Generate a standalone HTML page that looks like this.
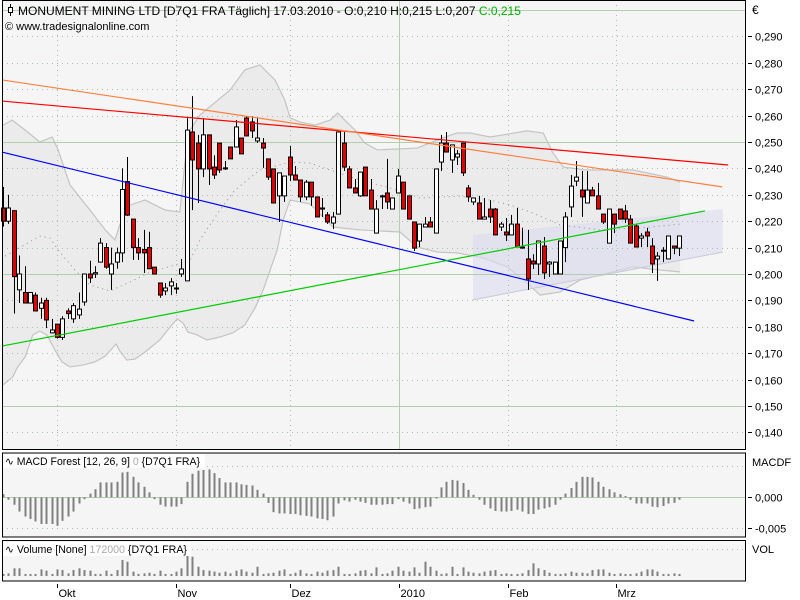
<!DOCTYPE html>
<html><head><meta charset="utf-8"><style>
html,body{margin:0;padding:0;background:#fff;}
svg{display:block;font-family:"Liberation Sans",Arial,sans-serif;}
</style></head><body>
<svg id="chart" width="800" height="600" viewBox="0 0 800 600" xmlns="http://www.w3.org/2000/svg">
<rect x="0" y="0" width="800" height="600" fill="#ffffff"/>
<g id="main"></g>
<g id="macd"></g>
<g id="vol"></g>
<g id="axes"></g>
</svg>
<script>
// ---- data ----
const candles = [
[.225,.233,.218,.220],[.220,.230,.219,.225],[.224,.224,.185,.199],[.194,.207,.189,.200],[.193,.203,.189,.189],
[.189,.193,.189,.193],[.192,.193,.186,.186],[.187,.191,.183,.189],[.190,.191,.1795,.1826],[.1777,.183,.1777,.1788],
[.181,.181,.1755,.176],[.176,.184,.175,.183],[.186,.187,.183,.185],[.183,.189,.1815,.188],[.1845,.193,.183,.1867],
[.1894,.200,.188,.200],[.200,.205,.1966,.1985],[.200,.203,.1985,.2005],[.2045,.2136,.2045,.2117],[.210,.2117,.202,.2026],
[.200,.210,.194,.2038],[.2045,.210,.202,.208],[.208,.240,.2045,.232],[.235,.2443,.222,.2223],[.2208,.2208,.2053,.210],
[.210,.2136,.2053,.208],[.2093,.2167,.2004,.208],[.210,.216,.202,.202],[.2026,.2026,.200,.200],[.1966,.1966,.191,.192],
[.1936,.1966,.192,.1947],[.1955,.1985,.192,.197],[.1947,.1966,.1925,.1947],[.200,.2057,.1989,.2019],[.1974,.259,.1974,.2545],
[.2538,.2674,.2242,.2432],[.2496,.2527,.2269,.2398],[.2398,.259,.2367,.2527],[.2527,.2527,.2337,.2398],[.2405,.245,.236,.2375],
[.2496,.2496,.2383,.2394],[.2398,.2428,.2394,.2402],[.2481,.2481,.2436,.2436],[.2481,.2583,.2481,.2557],[.2515,.2515,.2455,.2455],
[.2591,.2598,.2523,.2523],[.2576,.2598,.2515,.2542],[.2504,.2591,.2496,.2515],[.2496,.2515,.2402,.2477],[.2436,.2436,.2356,.2367],
[.2398,.2398,.2269,.2269],[.2296,.2383,.2197,.2383],[.2296,.2371,.2273,.2371],[.2443,.2485,.2352,.2375],[.2375,.2409,.2356,.2356],
[.2356,.2356,.2273,.2292],[.2292,.2356,.228,.2348],[.2348,.2348,.2258,.2292],[.2292,.2292,.2216,.2216],[.2246,.2288,.2216,.225],
[.2224,.2235,.219,.2197],[.2193,.2235,.217,.2216],[.2227,.2538,.2227,.2538],[.2496,.2538,.239,.2405],[.2398,.2409,.2326,.2326],
[.2326,.236,.2307,.2307],[.2296,.2386,.2292,.2386],[.2405,.2405,.2296,.2296],[.2318,.236,.2246,.2246],[.2155,.228,.2155,.2246],
[.2292,.23,.2246,.2296],[.2307,.2436,.2246,.2273],[.2246,.2288,.2246,.2288],[.2307,.2398,.2307,.2371],[.2348,.2348,.2246,.2246],
[.2296,.2296,.2208,.2208],[.2197,.2197,.2087,.2098],[.2125,.2189,.2102,.2189],[.2178,.2216,.2178,.2189],[.2197,.2216,.2178,.2178],
[.2155,.2398,.2155,.2398],[.2424,.2527,.239,.2496],[.2496,.2538,.2462,.2462],[.2432,.2489,.2383,.2489],[.2443,.247,.2413,.2455],
[.2496,.2496,.2371,.2383],[.2326,.2337,.2273,.2292],[.2273,.2288,.2262,.2288],[.2269,.2296,.2208,.2208],[.2208,.2288,.2208,.2216],
[.2246,.228,.2193,.2216],[.2246,.225,.2148,.2148],[.2178,.2197,.2163,.2189],[.2159,.2212,.2125,.2148],[.2148,.2224,.2148,.2189],
[.2189,.225,.2102,.2102],[.2102,.2175,.2098,.2098],[.2057,.2167,.194,.1981],[.2049,.2075,.2019,.2038],[.2038,.2125,.1996,.2125],
[.2106,.214,.1981,.2004],[.2038,.2049,.1989,.2045],[.2,.2045,.2,.2045],[.2,.2125,.2,.2125],[.21,.2235,.2045,.2216],
[.2254,.2375,.2216,.2333],[.2352,.2428,.2333,.2367],[.2318,.239,.2216,.2292],[.2269,.239,.2269,.2318],[.2318,.233,.2296,.2296],
[.2296,.2345,.2246,.2246],[.2227,.2227,.219,.2197],[.2117,.2246,.2117,.2246],[.2227,.2227,.2155,.2189],[.2246,.2246,.2208,.2208],
[.2239,.2262,.2193,.2208],[.2208,.2224,.2117,.2117],[.2182,.2189,.2102,.2102],[.2136,.2155,.2102,.2144],[.2159,.2175,.2102,.2144],
[.2106,.2136,.2004,.2038],[.2057,.2083,.1974,.2068],[.2087,.2102,.2045,.209],[.2057,.2144,.2057,.2144],[.2106,.2106,.2075,.2098],
[.2098,.2144,.2068,.2144]
];
const macdValues = [
.0005,-.0004,-.0012,-.0023,-.0031,-.0035,-.0039,-.0043,-.0043,-.0043,
-.0046,-.0038,-.0031,-.0023,-.0010,-.0003,.0006,.0013,.0024,.0024,
.0024,.0025,.0040,.0041,.0033,.0024,.0017,.0008,-.0003,-.0012,
-.0015,-.0015,-.0015,-.0011,.0025,.0038,.0043,.0044,.0045,.0039,
.0031,.0024,.0024,.0024,.0021,.0020,.0019,.0012,.0006,-.0009,
-.0024,-.0026,-.0026,-.0027,-.0027,-.0029,-.0030,-.0031,-.0034,-.0035,
-.0037,-.0031,-.0010,-.0005,-.0007,-.0004,-.0007,-.0009,-.0012,-.0012,
-.0012,-.0011,-.0011,-.0003,-.0007,-.0010,-.0019,-.0018,-.0016,-.0015,
-.0002,.0016,.0025,.0028,.0027,.0023,.0012,.0004,-.0004,-.0012,
-.0018,-.0022,-.0023,-.0023,-.0022,-.0020,-.0023,-.0027,-.0027,-.0020,
-.0018,-.0016,-.0012,-.0004,.0006,.0015,.0025,.0033,.0033,.0032,
.0025,.0017,.0013,.0008,.0005,.0002,-.0004,-.0010,-.0010,-.0010,
-.0015,-.0016,-.0014,-.0010,-.0009,-.0004
];
const volumeK = [
13,17,49,49,13,13,13,42,34,13,42,38,17,38,49,38,34,13,13,34,13,38,102,91,28,13,17,21,13,34,13,13,28,49,172,123,59,38,34,28,
21,28,17,34,42,28,21,59,13,17,21,34,42,13,21,38,17,13,28,21,34,38,59,
13,13,17,34,38,17,55,13,17,34,59,34,28,55,21,91,59,34,13,17,59,13,55,28,21,17,28,34,38,13,17,13,13,17,38,81,49,38,21,13,13,17,
28,21,21,17,38,42,42,21,13,17,13,13,17,28,42,42,28,13,13,17,13
];
const upperIdx = [0,1.7,4.1,6.8,9.1,10.2,12.4,16.1,18.9,20.7,21.6,23.5,26.3,30.0,32.7,33.7,34.6,36.4,42.0,44.7,47.5,50.3,52.1,53.1,54.9,57.7,60.5,61.9,63.2,65.1,66.9,69.2,76.6,80.3,83.9,86.4,90.1,96.9,99.9,101.7,103.6,108.0,116.5,122.8,125.2];
const upperVal = [.2564,.2583,.2545,.2500,.2519,.2470,.2337,.2242,.2167,.2129,.2186,.2261,.2280,.2242,.2235,.2432,.2545,.2602,.2697,.2773,.2792,.2735,.2659,.2591,.2576,.2564,.2583,.2610,.2583,.2545,.2496,.2470,.2477,.2508,.2534,.2534,.2519,.2542,.2534,.2458,.2405,.2394,.2394,.2367,.2348];
const lowerIdx = [0,1.8,2.6,4.1,5.5,6.8,8.1,9.6,10.9,12.4,14.8,17.0,18.9,20.9,21.6,22.9,24.4,26.3,29.0,30.9,32.2,33.3,34.2,35.9,37.7,40.1,42.5,44.7,46.6,48.1,50.7,51.8,53.1,56.8,61.0,66.0,73.4,76.6,80.3,83.9,88.8,93.2,96.9,99.3,103.0,106.7,110.4,116.5,121.5,125.2];
const lowerVal = [.1580,.1610,.1644,.1686,.1769,.1784,.1769,.1712,.1667,.1648,.1655,.1667,.1689,.1735,.1708,.1674,.1678,.1705,.1750,.1799,.1830,.1814,.1780,.1769,.1750,.1761,.1777,.1807,.1871,.1939,.2091,.2205,.2280,.2265,.2178,.2167,.2159,.2102,.2083,.2080,.2061,.2027,.1966,.1920,.1932,.1977,.1996,.2027,.2015,.2008];
const midIdx = [0.4,6.8,8.7,10.5,13.3,16.1,19.8,23.5,27.2,31.8,34.6,36.4,40.1,42.9,47.5,53.1,56.8,60.5,66.0,71.6,77.1,84.5,90.1,93.8,97.5,103.0,110.4,117.8,125.2];
const midVal = [.2068,.2144,.2136,.2083,.2015,.1958,.1936,.1970,.2008,.2034,.2053,.2129,.2242,.2318,.2394,.2424,.2420,.2394,.2356,.2326,.2288,.2295,.2280,.2261,.2235,.2186,.2167,.2174,.2189];
const redTrend = [[-0.2,.2655],[134.1,.2413]];
const orangeTrend = [[-0.2,.2735],[133.0,.2330]];
const blueTrend = [[-0.2,.2462],[127.8,.1822]];
const greenTrend = [[-0.2,.1727],[129.8,.2239]];
const channelTop = [[86.9,.2148],[133.1,.2246]];
const channelBottom = [[86.9,.1902],[133.1,.2083]];
const priceTicks = [.140,.150,.160,.170,.180,.190,.200,.210,.220,.230,.240,.250,.260,.270,.280,.290];
const priceLabels = ["0,140","0,150","0,160","0,170","0,180","0,190","0,200","0,210","0,220","0,230","0,240","0,250","0,260","0,270","0,280","0,290"];
const monthIdx = [10,32,53,73.2,93.4,113.4];
const monthLabels = ["Okt","Nov","Dez","2010","Feb","Mrz"];
const macdTicks = [.005,0,-.005];
const macdLabels = ["","0,000","-0,005"];

// ---- axes ----
const L=2, R=745;
const xOf = i => 3 + i*5.408;
const yP = p => 274 - (p-0.2)*2640;
const yM = v => 497.3 - v*6200;
const yV = k => 576 - k*27/172;
const NS="http://www.w3.org/2000/svg";
function mk(parent, tag, attrs){const e=document.createElementNS(NS,tag);for(const k in attrs)e.setAttribute(k,attrs[k]);parent.appendChild(e);return e;}
const main=document.getElementById('main'), macd=document.getElementById('macd'), vol=document.getElementById('vol'), axes=document.getElementById('axes');

let p;
p=mk(main,'rect',{x:L,y:0.5,width:R-L,height:449,fill:'#f5f5f5'});


p=mk(macd,'rect',{x:L,y:453,width:R-L,height:84,fill:'#f5f5f5'});


p=mk(vol,'rect',{x:L,y:540.5,width:R-L,height:40,fill:'#f5f5f5'});



let pts=upperIdx.map((i,k)=>xOf(i)+','+yP(upperVal[k]));
for(let k=lowerIdx.length-1;k>=0;k--)pts.push(xOf(lowerIdx[k])+','+yP(lowerVal[k]));
p=mk(main,'polygon',{points:pts.join(' '),fill:'#ebebeb',stroke:'none'});


p=mk(main,'polyline',{points:upperIdx.map((i,k)=>xOf(i)+','+yP(upperVal[k])).join(' '),fill:'none',stroke:'#c4c4c4','stroke-width':1.2});


p=mk(main,'polyline',{points:lowerIdx.map((i,k)=>xOf(i)+','+yP(lowerVal[k])).join(' '),fill:'none',stroke:'#c4c4c4','stroke-width':1.2});



p=mk(main,'polygon',{points:[channelTop[0],channelTop[1],channelBottom[1],channelBottom[0]].map(q=>xOf(q[0])+','+yP(q[1])).join(' '),fill:'#dcdcf0','fill-opacity':0.6,stroke:'none'});


p=mk(main,'line',{x1:xOf(channelBottom[0][0]),y1:yP(channelBottom[0][1]),x2:xOf(channelBottom[1][0]),y2:yP(channelBottom[1][1]),stroke:'#c8c8d8','stroke-width':1});



priceTicks.concat([.300]).forEach(v=>{
  const y=Math.round(yP(v))+0.5;
  const major=Math.abs(Math.round(v*1000)%50)===0;
  const g=mk(main,'line',{x1:L,x2:R,y1:y,y2:y,stroke:major?'#b4ccb0':'#a8c0a8','stroke-width':1,'stroke-dasharray':major?'none':'1,4'});
  
  
});
monthIdx.forEach((i,k)=>{
  const x=Math.round(xOf(i))+0.5, solid=monthLabels[k]==='2010';
  [[0,449],[453,537],[540,581]].forEach(r=>{
    const g=mk(main,'line',{x1:x,x2:x,y1:r[0],y2:r[1],stroke:solid?'#b4ccb0':'#a8c0a8','stroke-dasharray':solid?'none':'1,4'});
    
    
  });
});
[[.005,'1,4'],[0,'none'],[-.005,'1,4']].forEach(q=>{
  const y=Math.round(yM(q[0]))+0.5;
  const g=mk(macd,'line',{x1:L,x2:R,y1:y,y2:y,stroke:q[0]===0?'#b4ccb0':'#a8c0a8','stroke-dasharray':q[1]});
  
  
});
p=mk(vol,'line',{x1:L,x2:R,y1:549.5,y2:549.5,stroke:'#a8c0a8','stroke-dasharray':'1,4'});



p=mk(main,'polyline',{points:midIdx.map((i,k)=>xOf(i)+','+yP(midVal[k])).join(' '),fill:'none',stroke:'#909090','stroke-width':1,'stroke-dasharray':'1,4'});



candles.forEach((c,i)=>{
  const [o,h,l,cl]=c, x=Math.round(xOf(i));
  const g=mk(main,'g',{});
  
  
  mk(g,'line',{x1:x+0.5,x2:x+0.5,y1:yP(h),y2:yP(l),stroke:'#000','stroke-width':1});
  const top=yP(Math.max(o,cl)), bot=yP(Math.min(o,cl));
  mk(g,'rect',{x:x-1.5,y:top,width:4,height:Math.max(1,bot-top),fill:cl<o?'#e00000':'#ffffff',stroke:'#000','stroke-width':1});
});

[[redTrend,'#ff0000','trendline-red'],[orangeTrend,'#ff8040','trendline-orange'],[blueTrend,'#0000ff','trendline-blue'],[greenTrend,'#00cc00','trendline-green']].forEach(t=>{
  const d=t[0];
  const ln=mk(main,'line',{x1:xOf(d[0][0]),y1:yP(d[0][1]),x2:xOf(d[1][0]),y2:yP(d[1][1]),stroke:t[1],'stroke-width':1.2});
  
  
});

macdValues.forEach((v,i)=>{
  const x=Math.round(xOf(i)), y0=yM(0), y1=yM(v);
  const b=mk(macd,'rect',{x:x-0.5,y:Math.min(y0,y1),width:2,height:Math.max(0.8,Math.abs(y1-y0)),fill:'#808080'});
  
  
});
volumeK.forEach((v,i)=>{
  const x=Math.round(xOf(i)), y=yV(v);
  const b=mk(vol,'rect',{x:x-0.5,y:y,width:2,height:576-y,fill:'#808080'});
  
  
});

[[L,0.5,R-L,449],[L,453,R-L,84],[L,540.5,R-L,40.5]].forEach(r=>{
  const f=mk(axes,'rect',{x:r[0]+0.5,y:r[1],width:r[2],height:r[3],fill:'none',stroke:'#000','stroke-width':1});
  
  
});

priceTicks.forEach((v,k)=>{
  const y=Math.round(yP(v))+0.5;
  mk(axes,'line',{x1:748,x2:752,y1:y,y2:y,stroke:'#000'});
  const t=mk(axes,'text',{x:755,y:y+4,'font-size':11,fill:'#000'});
  t.textContent=priceLabels[k];
  
  
});
macdTicks.forEach((v,k)=>{
  if(!macdLabels[k])return;
  const y=Math.round(yM(v))+0.5;
  mk(axes,'line',{x1:748,x2:752,y1:y,y2:y,stroke:'#000'});
  const t=mk(axes,'text',{x:755,y:y+4,'font-size':11,fill:'#000'});
  t.textContent=macdLabels[k];
  
  
});
monthIdx.forEach((i,k)=>{
  const x=Math.round(xOf(i))+0.5;
  mk(axes,'line',{x1:x,x2:x,y1:584,y2:588,stroke:'#000'});
  const t=mk(axes,'text',{x:x+1,y:597,'font-size':11,fill:'#000'});
  t.textContent=monthLabels[k];
  
  
});
</script>
<svg style="position:absolute;left:0;top:0" width="800" height="600">
  <g>
    <line x1="10.5" y1="4" x2="10.5" y2="16" stroke="#000"/>
    <rect x="8.5" y="7.5" width="4" height="5" fill="#fff" stroke="#000"/>
  </g>
  <text x="18" y="15" font-family="Liberation Sans, sans-serif" font-size="12" fill="#000">MONUMENT MINING LTD [D7Q1 FRA  Täglich] 17.03.2010 - O:0,210 H:0,215 L:0,207 <tspan fill="#00b000">C:0,215</tspan></text>
  <text x="5" y="30" font-family="Liberation Sans, sans-serif" font-size="11" fill="#000">© www.tradesignalonline.com</text>
  <text x="752" y="14" font-family="Liberation Sans, sans-serif" font-size="12" fill="#000">€</text>
  <rect x="3" y="454" width="202" height="14" fill="#ffffff"/>
  <text x="5" y="465" font-family="Liberation Sans, sans-serif" font-size="11" fill="#000" textLength="195" lengthAdjust="spacingAndGlyphs">∿ MACD Forest [12, 26, 9] <tspan fill="#aaaaaa">0</tspan> {D7Q1 FRA}</text>
  <text x="752" y="466" font-family="Liberation Sans, sans-serif" font-size="11" fill="#000">MACDF</text>
  <rect x="3" y="542" width="188" height="14" fill="#ffffff"/>
  <text x="5" y="553" font-family="Liberation Sans, sans-serif" font-size="11" fill="#000" textLength="182" lengthAdjust="spacingAndGlyphs">∿ Volume [None] <tspan fill="#aaaaaa">172000</tspan> {D7Q1 FRA}</text>
  <text x="752" y="553" font-family="Liberation Sans, sans-serif" font-size="11" fill="#000">VOL</text>
</svg>
</body></html>
